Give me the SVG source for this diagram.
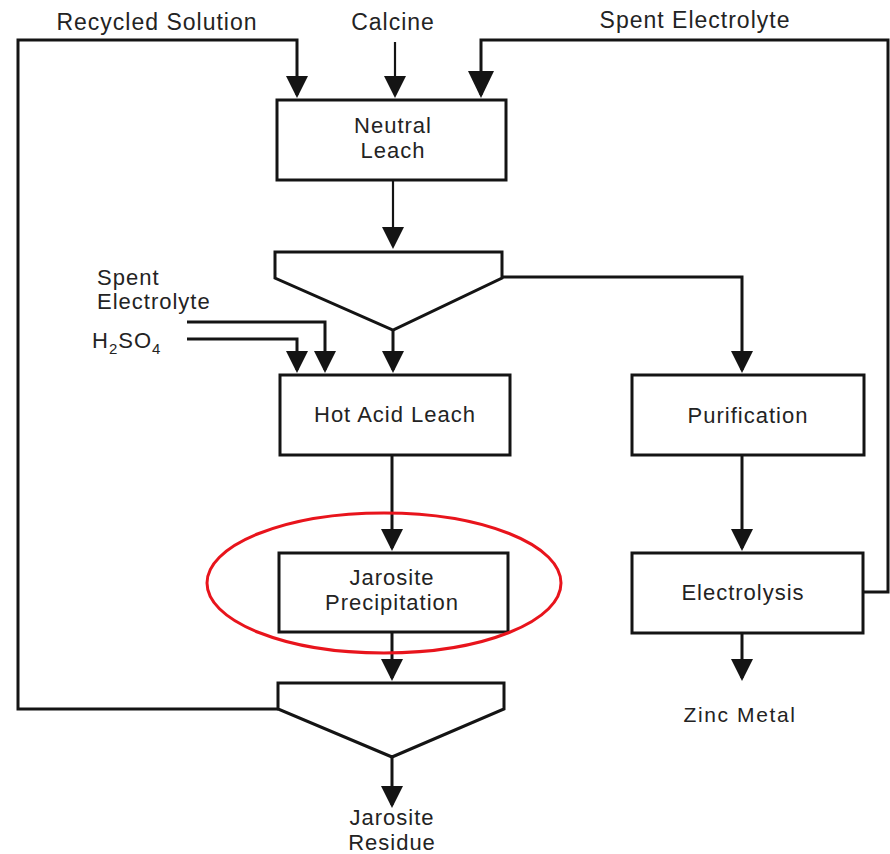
<svg xmlns="http://www.w3.org/2000/svg" width="890" height="854" viewBox="0 0 890 854">
<style>
  .box { fill: #fff; stroke: #141414; stroke-width: 3; }
  .ln { fill: none; stroke: #141414; stroke-width: 3; stroke-linejoin: miter; }
  .thin { stroke-width: 2.2; }
  .t { font-family: "Liberation Sans", Arial, sans-serif; font-size: 22px; fill: #232323; text-anchor: middle; letter-spacing: 1px; }
  .tl { font-family: "Liberation Sans", Arial, sans-serif; font-size: 22px; fill: #232323; letter-spacing: 1px; }
  .top { font-size: 23px; }
</style>
<defs>
  <marker id="ah" viewBox="0 0 22 22" markerWidth="22" markerHeight="22" refX="19" refY="11" orient="auto" markerUnits="userSpaceOnUse">
    <path d="M0,0 L22,11 L0,22 Z" fill="#141414"/>
  </marker>
  <marker id="ahb" viewBox="0 0 27 26" markerWidth="27" markerHeight="26" refX="24" refY="13" orient="auto" markerUnits="userSpaceOnUse">
    <path d="M0,0 L27,13 L0,26 Z" fill="#141414"/>
  </marker>
</defs>

<g id="labels">
  <text class="t top" x="157" y="30">Recycled Solution</text>
  <text class="t top" x="393" y="30">Calcine</text>
  <text class="t top" x="695" y="28">Spent Electrolyte</text>
  <text class="tl" x="97" y="285">Spent</text>
  <text class="tl" x="97" y="309">Electrolyte</text>
  <text class="tl" x="92" y="348">H<tspan font-size="15" dy="6">2</tspan><tspan dy="-6">SO</tspan><tspan font-size="15" dy="6">4</tspan></text>
  <text class="t" x="740" y="722" style="font-size:21px;letter-spacing:1.6px">Zinc Metal</text>
  <text class="t" x="392" y="825">Jarosite</text>
  <text class="t" x="392" y="850">Residue</text>
</g>

<g id="connectors">
  <path class="ln" d="M278,709 H18 V40 H297 V95" marker-end="url(#ah)"/>
  <path class="ln thin" d="M395,42 V95" marker-end="url(#ah)"/>
  <path class="ln" d="M863,592 H888 V40 H481 V95" marker-end="url(#ahb)"/>
  <path class="ln thin" d="M393,180 V246" marker-end="url(#ah)"/>
  <path class="ln" d="M393,330 V370" marker-end="url(#ah)"/>
  <path class="ln" d="M502,277 H742 V370" marker-end="url(#ah)"/>
  <path class="ln" d="M187,322 H325 V370" marker-end="url(#ah)"/>
  <path class="ln" d="M187,339 H297 V370" marker-end="url(#ah)"/>
  <path class="ln" d="M392,455 V548" marker-end="url(#ah)"/>
  <path class="ln" d="M392,632 V678" marker-end="url(#ah)"/>
  <path class="ln" d="M392,757 V805" marker-end="url(#ah)"/>
  <path class="ln" d="M742,455 V548" marker-end="url(#ah)"/>
  <path class="ln" d="M742,633 V678" marker-end="url(#ah)"/>
</g>

<g id="neutral-leach">
  <rect class="box" x="277" y="100" width="229" height="80"/>
  <text class="t" x="393" y="133">Neutral</text>
  <text class="t" x="393" y="158">Leach</text>
</g>

<g id="thickener-1">
  <polygon class="box" points="275,252 502,252 502,278 393,330 275,278"/>
</g>

<g id="hot-acid-leach">
  <rect class="box" x="280" y="375" width="230" height="80"/>
  <text class="t" x="395" y="422">Hot Acid Leach</text>
</g>

<g id="purification">
  <rect class="box" x="632" y="375" width="232" height="80"/>
  <text class="t" x="748" y="423">Purification</text>
</g>

<g id="jarosite-precipitation">
  <rect class="box" x="279" y="553" width="229" height="79"/>
  <text class="t" x="392" y="585">Jarosite</text>
  <text class="t" x="392" y="610">Precipitation</text>
</g>

<g id="electrolysis">
  <rect class="box" x="632" y="553" width="231" height="80"/>
  <text class="t" x="743" y="600">Electrolysis</text>
</g>

<g id="thickener-2">
  <polygon class="box" points="278,683 504,683 504,709 392,757 278,709"/>
</g>

<g id="highlight">
  <ellipse cx="384" cy="583" rx="177" ry="70" fill="none" stroke="#e8141c" stroke-width="3"/>
</g>
</svg>
